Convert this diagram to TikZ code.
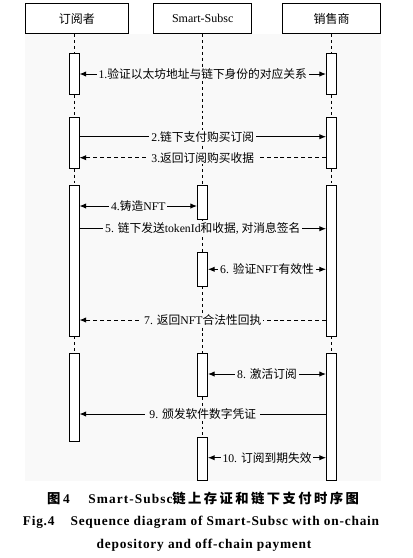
\documentclass[tikz,border=0pt]{standalone}
\usepackage{fontspec}
\setmainfont{Liberation Serif}
\newfontfamily\cjk{Noto Sans CJK SC}
\newfontfamily\cjkcap[LetterSpace=18]{Noto Sans CJK SC}
\usetikzlibrary{arrows.meta}
\newcommand\zh[1]{{\cjk #1}}
\definecolor{bgc}{gray}{0.975}
\begin{document}
\begin{tikzpicture}[x=0.75pt,y=-0.75pt,
  head/.style={draw, line width=0.8pt, minimum height=22.8pt, inner sep=0pt, font=\fontsize{9}{10}\selectfont},
  act/.style={draw, fill=white, line width=0.7pt, minimum width=7.5pt, inner sep=0pt},
  life/.style={line width=0.7pt, dash pattern=on 2.2pt off 2.2pt},
  msg/.style={line width=0.7pt, arrows={-Latex[length=5pt,width=4pt]}},
  bmsg/.style={line width=0.7pt, arrows={Latex[length=5pt,width=4pt]-Latex[length=5pt,width=4pt]}},
  rmsg/.style={line width=0.7pt, dash pattern=on 3pt off 2.2pt, arrows={-Latex[length=5pt,width=4pt]}},
  lab/.style={fill=bgc, inner xsep=1.5pt, inner ysep=1pt, font=\fontsize{8.8}{10}\selectfont},
  captext/.style={font=\bfseries\fontsize{10}{12}\selectfont}]
\useasboundingbox (0,0) rectangle (413,558);
\fill[bgc] (25,34) rectangle (381,481);
% headers
\node[head, minimum width=77pt] (HL) at (77,18.5) {\zh{订阅者}};
\node[head, minimum width=73.5pt] (HM) at (202.7,18.5) {Smart-Subsc};
\node[head, minimum width=73.2pt] (HR) at (331.5,18.5) {\zh{销售商}};
% activation boxes: left
\node[act, minimum height=30.75pt] (A1) at (74,73.8) {};
\node[act, minimum height=38.25pt] (A2) at (74,142.8) {};
\node[act, minimum height=113.25pt] (A3) at (74,260.5) {};
\node[act, minimum height=65.8pt] (A4) at (74,397.2) {};
% middle
\node[act, minimum height=25.5pt] (C1) at (202.5,202) {};
\node[act, minimum height=25.3pt] (C2) at (202.5,269.2) {};
\node[act, minimum height=32.55pt] (C3) at (202.5,375) {};
\node[act, minimum height=32.25pt] (C4) at (202.5,459.2) {};
% right
\node[act, minimum height=30.75pt] (B1) at (331.5,73.8) {};
\node[act, minimum height=38.25pt] (B2) at (331.5,142.8) {};
\node[act, minimum height=113.25pt] (B3) at (331.5,260.5) {};
\node[act, minimum height=95.55pt] (B4) at (331.5,417) {};
% lifelines
\draw[life] (HL.south -| A1.north) -- (A1.north);
\draw[life] (A1.south) -- (A2.north);
\draw[life] (A2.south) -- (A3.north);
\draw[life] (A3.south) -- (A4.north);
\draw[life] (HM.south -| C1.north) -- (C1.north);
\draw[life] (C1.south) -- (C2.north);
\draw[life] (C2.south) -- (C3.north);
\draw[life] (C3.south) -- (C4.north);
\draw[life] (HR.south -| B1.north) -- (B1.north);
\draw[life] (B1.south) -- (B2.north);
\draw[life] (B2.south) -- (B3.north);
\draw[life] (B3.south) -- (B4.north);
% messages
\draw[bmsg] (A1.east |- 0,74) -- node[lab] {1.\zh{验证以太坊地址与链下身份的对应关系}} (B1.west |- 0,74);
\draw[msg] (A2.east |- 0,136.7) -- node[lab] {2.\zh{链下支付购买订阅}} (B2.west |- 0,136.7);
\draw[rmsg] (B2.west |- 0,157.7) -- node[lab, inner xsep=4pt] {3.\zh{返回订阅购买收据}} (A2.east |- 0,157.7);
\draw[bmsg] (A3.east |- 0,206) -- node[lab] {4.\zh{铸造}NFT} (C1.west |- 0,206);
\draw[msg] (A3.east |- 0,228.7) -- node[lab] {5. \zh{链下发送}tokenId\zh{和收据}, \zh{对消息签名}} (B3.west |- 0,228.7);
\draw[bmsg] (C2.east |- 0,269.3) -- node[lab] {6. \zh{验证}NFT\zh{有效性}} (B3.west |- 0,269.3);
\draw[rmsg] (B3.west |- 0,320) -- node[lab] {7. \zh{返回}NFT\zh{合法性回执}} (A3.east |- 0,320);
\draw[bmsg] (C3.east |- 0,374) -- node[lab] {8. \zh{激活订阅}} (B4.west |- 0,374);
\draw[msg] (B4.west |- 0,414) -- node[lab, inner xsep=3pt] {9. \zh{颁发软件数字凭证}} (A4.east |- 0,414);
\draw[bmsg] (C4.east |- 0,457.7) -- node[lab] {10. \zh{订阅到期失效}} (B4.west |- 0,457.7);
% caption
\node[captext] (cap1) at (203,498) {{\cjkcap 图}\hspace{2pt}4\hspace{14pt}{\addfontfeature{LetterSpace=8}Smart-Subsc}{\cjkcap 链上存证和链下支付时序图}};
\node[captext] (cap2) at (201,522.7) {{\addfontfeature{LetterSpace=6}Fig.4\hspace{12pt}Sequence diagram of Smart-Subsc with on-chain}};
\node[captext] (cap3) at (204,545.3) {{\addfontfeature{LetterSpace=6}depository and off-chain payment}};
\end{tikzpicture}
\end{document}
